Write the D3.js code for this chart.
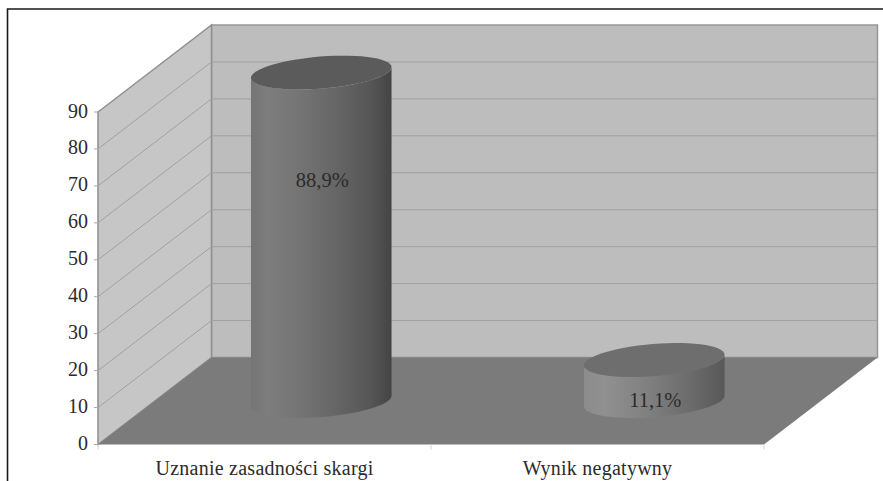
<!DOCTYPE html>
<html>
<head>
<meta charset="utf-8">
<script src="https://cdnjs.cloudflare.com/ajax/libs/d3/7.8.5/d3.min.js"></script>
<style>
html,body{margin:0;padding:0;background:#fff;}
svg{display:block;}
text{font-family:"Liberation Serif",serif;fill:#2b2b2b;}
</style>
</head>
<body>
<script>
const categories = ["Uznanie zasadności skargi", "Wynik negatywny"];
const values = [88.9, 11.1];
const valueLabels = ["88,9%", "11,1%"];
const tickValues = [0, 10, 20, 30, 40, 50, 60, 70, 80, 90];

const width = 883, height = 481;
const svg = d3.select("body").append("svg").attr("width", width).attr("height", height);

// Plot box in oblique projection: the front face plus a constant depth offset
const x = d3.scaleBand().domain(categories).range([98, 764]);
const y = d3.scaleLinear().domain([0, 90]).range([444.5, 112]);
const depth = d3.scaleLinear().domain([0, 1]);
const depthX = depth.copy().range([0, 113.5]);
const depthY = depth.copy().range([0, -87]);
const pt = (px, v, z) => [px + depthX(z), y(v) + depthY(z)];
const x0 = x.range()[0], x1 = x.range()[1], vMax = y.domain()[1];
const poly = pts => "M" + pts.map(p => p.join(",")).join("L") + "Z";

// Cylinder shading
const defs = svg.append("defs");
function shade(id, stops) {
  const g = defs.append("linearGradient").attr("id", id);
  stops.forEach(([o, c]) => g.append("stop").attr("offset", o).attr("stop-color", c));
}
shade("body0", [[0, "#757575"], [0.12, "#7d7d7d"], [0.35, "#747474"], [0.6, "#666666"], [0.85, "#565656"], [1, "#444444"]]);
shade("body1", [[0, "#8c8c8c"], [0.15, "#909090"], [0.45, "#808080"], [0.75, "#6c6c6c"], [1, "#585858"]]);
const capColors = ["#5b5b5b", "#6e6e6e"];

// Walls and floor
svg.append("path").attr("d", poly([pt(x0, 0, 1), pt(x1, 0, 1), pt(x1, vMax, 1), pt(x0, vMax, 1)]))
  .attr("fill", "#bdbdbd").attr("stroke", "#969696").attr("stroke-width", 1.5);
svg.append("path").attr("d", poly([pt(x0, 0, 0), pt(x0, 0, 1), pt(x0, vMax, 1), pt(x0, vMax, 0)]))
  .attr("fill", "#c6c6c6").attr("stroke", "#8f8f8f").attr("stroke-width", 1.5);

// Gridlines run along the side wall and across the back wall
const gridTicks = tickValues.filter(t => t > 0 && t < vMax);
const grid = svg.append("g").attr("fill", "none").attr("stroke", "#a0a0a0").attr("stroke-width", 1);
grid.selectAll("path").data(gridTicks).join("path")
  .attr("d", t => d3.line()([pt(x0, t, 0), pt(x0, t, 1), pt(x1, t, 1)]));

svg.append("path").attr("d", poly([pt(x0, 0, 0), pt(x1, 0, 0), pt(x1, 0, 1), pt(x0, 0, 1)]))
  .attr("fill", "#7b7b7b");

// Cylinders stand halfway through the depth; their ellipses are tilted
const rx = 70.5, ry = 16, tilt = -4.6 * Math.PI / 180;
const ex = (cx, a) => cx + rx * Math.cos(a) * Math.cos(tilt) - ry * Math.sin(a) * Math.sin(tilt);
const ey = (cy, a) => cy + rx * Math.cos(a) * Math.sin(tilt) + ry * Math.sin(a) * Math.cos(tilt);
const arcPts = (cx, cy, a0, a1) => d3.range(0, 61).map(i => {
  const a = a0 + (a1 - a0) * i / 60;
  return [ex(cx, a), ey(cy, a)];
});
const aRight = Math.atan2(-ry * Math.sin(tilt), rx * Math.cos(tilt));
const aLeft = aRight + Math.PI;

const bars = svg.append("g").selectAll("g").data(categories).join("g");
bars.each(function (c, i) {
  const g = d3.select(this);
  const px = x(c) + x.bandwidth() / 2;
  const [cx, cyBase] = pt(px, 0, 0.5);
  const [, cyTop] = pt(px, values[i], 0.5);
  const side = arcPts(cx, cyBase, aRight, aLeft).concat(arcPts(cx, cyTop, aLeft, aRight));
  g.append("path").attr("d", d3.line()(side) + "Z").attr("fill", `url(#body${i})`);
  g.append("path").attr("d", d3.line()(arcPts(cx, cyTop, 0, 2 * Math.PI)) + "Z").attr("fill", capColors[i]);
});

// Value axis
const axisG = svg.append("g");
axisG.selectAll("line").data(tickValues).join("line")
  .attr("x1", x0 - 4).attr("x2", x0).attr("y1", d => y(d)).attr("y2", d => y(d))
  .attr("stroke", "#a8a8a8");
axisG.selectAll("text").data(tickValues).join("text")
  .attr("x", x0 - 10).attr("y", d => y(d) + 5.5).attr("text-anchor", "end")
  .attr("font-size", 20).text(d => d);

// Category axis
const catTicks = [x0, x0 + x.step(), x1];
svg.append("g").selectAll("line").data(catTicks).join("line")
  .attr("x1", d => d).attr("x2", d => d).attr("y1", y(0)).attr("y2", y(0) + 5)
  .attr("stroke", "#d4d4d4");
svg.append("g").selectAll("text").data(categories).join("text")
  .attr("x", d => x(d) + x.bandwidth() / 2).attr("y", 475).attr("text-anchor", "middle")
  .attr("font-size", 20).attr("letter-spacing", 0.25).text(d => d);

// Value labels sit on the cylinders
const labelY = [187, 407];
svg.append("g").selectAll("text").data(valueLabels).join("text")
  .attr("x", (d, i) => pt(x(categories[i]) + x.bandwidth() / 2, 0, 0.5)[0] + 1)
  .attr("y", (d, i) => labelY[i]).attr("text-anchor", "middle")
  .attr("font-size", 20.5).attr("fill", "#222").text(d => d);

// Frame on the top and left sides only
svg.append("path").attr("d", "M7.5,481V9H883").attr("fill", "none").attr("stroke", "#1a1a1a").attr("stroke-width", 1.6);
</script>
</body>
</html>
